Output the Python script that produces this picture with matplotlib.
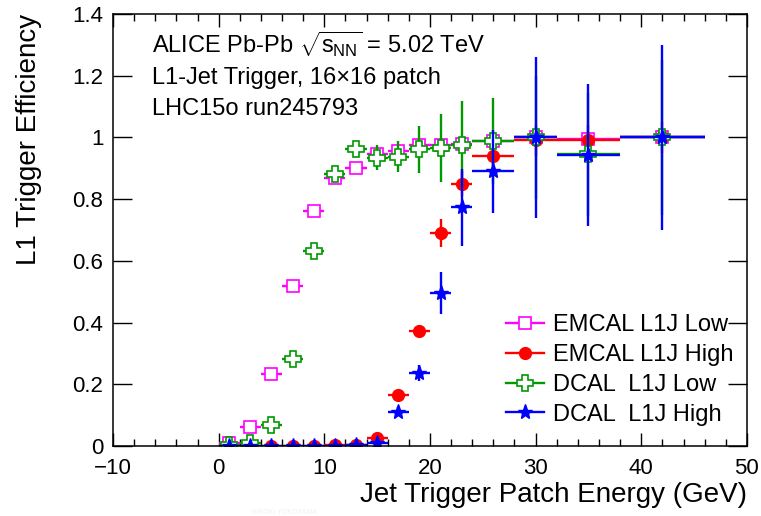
import matplotlib
matplotlib.use('Agg')
import matplotlib.pyplot as plt
from matplotlib.lines import Line2D
from matplotlib.ticker import MultipleLocator, FixedFormatter, FixedLocator

plt.rcParams['font.family'] = ['Liberation Sans', 'DejaVu Sans']
plt.rcParams['mathtext.fontset'] = 'custom'
plt.rcParams['mathtext.rm'] = 'Liberation Sans'
plt.rcParams['mathtext.it'] = 'Liberation Sans'

# bin centres and half widths (GeV)
bin_x = [1, 3, 5, 7, 9, 11, 13, 15, 17, 19, 21, 23, 26, 30, 35, 42]
bin_hw = [1, 1, 1, 1, 1, 1, 1, 1, 1, 1, 1, 1, 2, 2, 3, 4]

emcal_low = [0.011, 0.06, 0.234, 0.519, 0.761, 0.867, 0.90, 0.945, 0.955, 0.977, 0.977, 0.98, 0.988, 1.0, 0.996, 1.0]
emcal_low_err = [0.005, 0.01, 0.012, 0.012, 0.01, 0.01, 0.01, 0.01, 0.01, 0.01, 0.01, 0.01, 0.01, 0.005, 0.005, 0.005]

emcal_high = [0.001, 0.001, 0.001, 0.001, 0.001, 0.002, 0.003, 0.027, 0.165, 0.372, 0.69, 0.85, 0.94, 0.991, 0.991, 1.0]
emcal_high_err = [0.001, 0.001, 0.001, 0.001, 0.001, 0.002, 0.003, 0.008, 0.015, 0.02, 0.045, 0.04, 0.05, 0.05, 0.05, 0.05]

dcal_low = [0.003, 0.01, 0.068, 0.282, 0.632, 0.882, 0.964, 0.934, 0.937, 0.961, 0.966, 0.977, 0.988, 1.0, 0.945, 1.0]
dcal_low_err = [0.025, 0.02, 0.012, 0.015, 0.015, 0.015, 0.015, 0.04, 0.05, 0.075, 0.11, 0.14, 0.14, 0.2, 0.2, 0.25]

dcal_high = [0.001, 0.001, 0.001, 0.001, 0.001, 0.001, 0.002, 0.011, 0.111, 0.236, 0.496, 0.773, 0.89, 1.0, 0.942, 1.0]
dcal_high_err = [0.001, 0.001, 0.001, 0.001, 0.001, 0.001, 0.002, 0.006, 0.015, 0.027, 0.069, 0.125, 0.135, 0.26, 0.23, 0.30]

labels = ['EMCAL L1J Low', 'EMCAL L1J High', 'DCAL  L1J Low', 'DCAL  L1J High']
colors = ['#ff00ff', '#ff0000', '#009900', '#0000ff']

fig = plt.figure(figsize=(7.61, 5.16), dpi=100)
ax = fig.add_axes([0.1485, 0.1357, 0.833, 0.8372])

series = [
    (emcal_low, emcal_low_err, dict(marker='s', ms=8.5, mfc='white', mec=colors[0], mew=1.2)),
    (emcal_high, emcal_high_err, dict(marker='o', ms=8.5, mfc=colors[1], mec=colors[1])),
    (dcal_low, dcal_low_err, dict(marker='P', ms=11, mfc='white', mec=colors[2], mew=1.2)),
    (dcal_high, dcal_high_err, dict(marker='*', ms=11, mfc=colors[3], mec=colors[3])),
]

handles = []
for (vals, errs, mk), col, lab in zip(series, colors, labels):
    ax.errorbar(bin_x, vals, xerr=bin_hw, yerr=errs, fmt='none', ecolor=col, elinewidth=1.7, capsize=0)
    ax.plot(bin_x, vals, linestyle='none', **mk)
    handles.append(Line2D([], [], color=col, lw=1.7, **mk))

ax.set_xlim(-10, 50)
ax.set_ylim(0, 1.4)
ax.xaxis.set_major_locator(MultipleLocator(10))
ax.xaxis.set_minor_locator(MultipleLocator(2))
ax.yaxis.set_major_locator(FixedLocator([0, 0.2, 0.4, 0.6, 0.8, 1.0, 1.2, 1.4]))
ax.yaxis.set_major_formatter(FixedFormatter(['0', '0.2', '0.4', '0.6', '0.8', '1', '1.2', '1.4']))
ax.tick_params(axis='both', which='both', direction='in', top=True, right=True, labelsize=16, width=1.0)
ax.tick_params(axis='x', which='major', length=9.5, pad=9)
ax.tick_params(axis='x', which='minor', length=5)
ax.tick_params(axis='y', which='major', length=13.5, pad=7)
for sp in ax.spines.values():
    sp.set_linewidth(1.1)

ax.set_xlabel('Jet Trigger Patch Energy (GeV)', fontsize=20, loc='right', labelpad=2)
ax.set_ylabel('L1 Trigger Efficiency', fontsize=20, loc='top', labelpad=22)

tx = 0.0615
ax.text(tx, 0.91, r'ALICE Pb-Pb $\sqrt{s_{\mathrm{NN}}}$ = 5.02 TeV', transform=ax.transAxes,
        fontsize=17, va='baseline')
ax.text(tx, 0.838, 'L1-Jet Trigger, 16×16 patch', transform=ax.transAxes, fontsize=17, va='baseline')
ax.text(tx, 0.766, 'LHC15o run245793', transform=ax.transAxes, fontsize=17, va='baseline')

ax.legend(handles, labels, loc='lower left', bbox_to_anchor=(0.605, 0.025), frameon=False,
          fontsize=17, handlelength=1.6, handletextpad=0.38, labelspacing=0.33,
          borderaxespad=0, borderpad=0.4)

fig.text(0.33, 0.003, 'HIROKI YOKOYAMA', fontsize=5, color='#f0f0f0')

fig.savefig('out.png', dpi=100)
